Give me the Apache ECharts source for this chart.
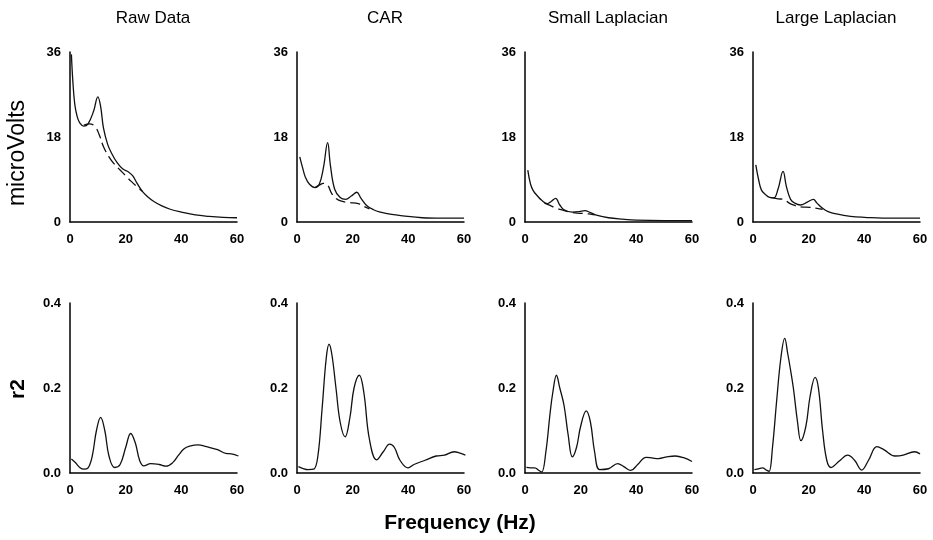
<!DOCTYPE html>
<html>
<head>
<meta charset="utf-8">
<script src="https://cdn.jsdelivr.net/npm/echarts@6/dist/echarts.min.js"></script>
<style>
  html, body { margin: 0; padding: 0; background: #fff; }
  #chart { width: 933px; height: 540px; }
</style>
</head>
<body>
<div id="chart"></div>
<script>
const panelTitles = ['Raw Data', 'CAR', 'Small Laplacian', 'Large Laplacian'];
const xTicks = [0, 20, 40, 60];
const voltTicks = [0, 18, 36];
const r2Ticks = [0.0, 0.2, 0.4];

// top row: amplitude spectra (solid = one condition, dashed = the other)
const rawSolidHz = [0.5, 1, 1.7, 2.5, 3.5, 5, 6.5, 8.5, 10, 11, 12, 13.5, 15, 17, 19, 21, 22.5, 24, 26, 28, 30, 33, 36, 40, 45, 50, 55, 60];
const rawSolid = [35.5, 30, 25, 22.5, 21, 20.3, 20.8, 23.5, 26.5, 24.5, 20, 16.5, 14.5, 12.5, 11.2, 10.6, 9.8, 8.3, 6.5, 5.3, 4.4, 3.4, 2.7, 2.1, 1.5, 1.2, 1.0, 0.9];
const rawDashHz = [5, 7, 9, 10.5, 12, 14, 16, 18, 20, 22, 24, 26];
const rawDash = [20.5, 20.8, 20.2, 18.5, 16, 13.8, 12.2, 11, 9.8, 8.6, 7.5, 6.5];

const carSolidHz = [1, 2, 3, 4.5, 6.5, 8, 9.5, 11, 12, 13.5, 15.5, 17.5, 19.5, 21.5, 23, 25, 27.5, 30, 34, 38, 45, 52, 60];
const carSolid = [13.8, 11.5, 9.5, 8, 7.3, 8, 11.5, 16.8, 12, 7, 5.2, 4.8, 5.5, 6.3, 5, 3.5, 2.6, 2.1, 1.6, 1.3, 0.9, 0.8, 0.8];
const carDashHz = [6.5, 8, 9.5, 11, 12.5, 14, 16, 19, 22, 24, 26];
const carDash = [7.3, 7.8, 8.2, 7.8, 6.0, 5.0, 4.4, 4.1, 3.9, 3.3, 2.8];

const smallSolidHz = [1, 2, 3, 4.5, 6, 8, 9.5, 11, 12.5, 14, 17, 19.5, 21.5, 23.5, 26, 30, 35, 40, 50, 60];
const smallSolid = [11, 8, 6.6, 5.5, 4.6, 3.9, 4.4, 5.0, 3.6, 2.6, 2.1, 2.2, 2.4, 2.0, 1.4, 0.9, 0.6, 0.4, 0.3, 0.3];
const smallDashHz = [7, 9, 11, 13, 16, 19, 21, 23, 25];
const smallDash = [4.0, 3.5, 3.0, 2.6, 2.1, 1.9, 1.8, 1.7, 1.5];

const largeSolidHz = [1, 2, 3, 4.5, 6, 7.5, 9, 10.8, 12, 13.5, 15, 17, 19.5, 21.7, 23, 25, 27, 30, 35, 40, 50, 60];
const largeSolid = [12.1, 9, 6.8, 5.8, 5.2, 5.1, 7, 10.7, 7.5, 4.8, 4.0, 3.6, 4.2, 4.8, 4.0, 2.9, 2.2, 1.7, 1.2, 1.0, 0.8, 0.8];
const largeDashHz = [7, 9, 11, 13, 15, 17, 20.5, 23, 25];
const largeDash = [5.1, 4.9, 4.8, 4.0, 3.5, 3.2, 3.1, 2.9, 2.7];

// bottom row: r2
const rawR2Hz = [0.5, 2, 3.5, 5, 6.5, 8, 9.5, 11, 12.5, 14, 16, 18, 20, 21.8, 23.5, 25, 26.5, 29, 32, 34.5, 37, 39, 41, 43, 46, 49, 53, 56, 58, 60.5];
const rawR2 = [0.033, 0.024, 0.013, 0.009, 0.012, 0.04, 0.1, 0.131, 0.1, 0.04, 0.013, 0.02, 0.06, 0.093, 0.07, 0.03, 0.017, 0.022, 0.02, 0.016, 0.025, 0.042, 0.057, 0.063, 0.066, 0.062, 0.055, 0.046, 0.045, 0.04];

const carR2Hz = [0.5, 2, 4, 6, 7.5, 9, 10.5, 11.5, 12.5, 14, 15.5, 17.3, 19, 20.5, 22.4, 24, 26, 28.6, 31, 33.3, 35, 37, 39.9, 42, 46, 50, 53, 56.5, 58, 60.5];
const carR2 = [0.015, 0.011, 0.008, 0.009, 0.04, 0.15, 0.27, 0.303, 0.28, 0.2, 0.12, 0.085, 0.13, 0.2, 0.23, 0.19, 0.08, 0.031, 0.05, 0.068, 0.06, 0.03, 0.012, 0.02, 0.03, 0.04, 0.042, 0.05, 0.048, 0.042];

const smallR2Hz = [0.5, 2, 3.5, 5, 6, 7.5, 9, 10, 11.3, 12.5, 14, 15.5, 17, 18.5, 20, 22, 23.5, 25, 26.8, 30, 33.3, 35.5, 38, 40.5, 43.5, 46, 48, 51, 54, 57, 60];
const smallR2 = [0.013, 0.012, 0.012, 0.006, 0.002, 0.05, 0.14, 0.19, 0.23, 0.2, 0.16, 0.09, 0.038, 0.06, 0.11, 0.146, 0.12, 0.05, 0.008, 0.01, 0.022, 0.015, 0.006, 0.02, 0.037, 0.035, 0.034, 0.038, 0.04, 0.036, 0.027];

const largeR2Hz = [0.5, 2, 3.4, 5, 5.8, 7, 8.5, 10, 11.4, 12.5, 13.3, 14.5, 16, 17.2, 19, 20.5, 22.3, 23.5, 25, 26.5, 28, 31, 34, 36.5, 39, 41.5, 44.5, 47, 51, 54, 58, 60];
const largeR2 = [0.008, 0.01, 0.012, 0.006, 0.004, 0.06, 0.17, 0.27, 0.317, 0.28, 0.25, 0.2, 0.12, 0.076, 0.11, 0.18, 0.225, 0.2, 0.1, 0.03, 0.013, 0.028, 0.042, 0.03, 0.007, 0.03, 0.062, 0.055, 0.04, 0.042, 0.05, 0.045];

const topSolid = [[rawSolidHz, rawSolid], [carSolidHz, carSolid], [smallSolidHz, smallSolid], [largeSolidHz, largeSolid]];
const topDash = [[rawDashHz, rawDash], [carDashHz, carDash], [smallDashHz, smallDash], [largeDashHz, largeDash]];
const bottomR2 = [[rawR2Hz, rawR2], [carR2Hz, carR2], [smallR2Hz, smallR2], [largeR2Hz, largeR2]];

const gridLefts = [70, 297, 525, 753];
const gridWidth = 167;
const FONT = '"Liberation Sans", Arial, sans-serif';

const chart = echarts.init(document.getElementById('chart'));

const zip = (xs, ys) => xs.map((x, i) => [x, ys[i]]);

const grids = [];
const xAxes = [];
const yAxes = [];
const series = [];

function axisLine() {
  return { show: true, lineStyle: { color: '#000', width: 1.5 } };
}

function addPanel(row, col) {
  const idx = grids.length;
  grids.push({
    left: gridLefts[col],
    top: row === 0 ? 52 : 303,
    width: gridWidth,
    height: 170,
  });
  xAxes.push({
    gridIndex: idx,
    type: 'value',
    min: 0,
    max: 60,
    interval: 20,
    axisLine: axisLine(),
    axisTick: { show: false },
    splitLine: { show: false },
    axisLabel: {
      color: '#000',
      fontFamily: FONT,
      fontSize: 13,
      fontWeight: 'bold',
      margin: 11,
      customValues: xTicks,
    },
  });
  const ticks = row === 0 ? voltTicks : r2Ticks;
  yAxes.push({
    gridIndex: idx,
    type: 'value',
    min: 0,
    max: row === 0 ? 36 : 0.4,
    interval: row === 0 ? 18 : 0.2,
    axisLine: axisLine(),
    axisTick: { show: false },
    splitLine: { show: false },
    axisLabel: {
      color: '#000',
      fontFamily: FONT,
      fontSize: 13,
      fontWeight: 'bold',
      margin: 9,
      customValues: ticks,
      formatter: (v) => (row === 0 ? String(v) : v.toFixed(1)),
    },
  });

  const lineBase = {
    type: 'line',
    xAxisIndex: idx,
    yAxisIndex: idx,
    showSymbol: false,
    smooth: 0.4,
    silent: true,
    z: 3,
  };

  if (row === 0) {
    const [sx, sy] = topSolid[col];
    const [dx, dy] = topDash[col];
    series.push({
      ...lineBase,
      data: zip(sx, sy),
      lineStyle: { color: '#111', width: 1.3 },
    });
    series.push({
      ...lineBase,
      data: zip(dx, dy),
      lineStyle: { color: '#111', width: 1.3, type: [10, 5] },
    });
  } else {
    const [rx, ry] = bottomR2[col];
    series.push({
      ...lineBase,
      data: zip(rx, ry),
      lineStyle: { color: '#111', width: 1.3 },
    });
  }
}

for (let row = 0; row < 2; row++) {
  for (let col = 0; col < 4; col++) {
    addPanel(row, col);
  }
}

const titleCenters = [153, 385, 608, 836];
const graphic = panelTitles.map((t, i) => ({
  type: 'text',
  style: {
    text: t,
    x: titleCenters[i],
    y: 18,
    textAlign: 'center',
    textVerticalAlign: 'middle',
    font: `17px ${FONT}`,
    fill: '#000',
  },
}));

graphic.push({
  type: 'text',
  x: 18,
  y: 153,
  rotation: Math.PI / 2,
  style: {
    text: 'microVolts',
    textAlign: 'center',
    textVerticalAlign: 'middle',
    font: `23px ${FONT}`,
    fill: '#000',
  },
});
graphic.push({
  type: 'text',
  x: 18,
  y: 389,
  rotation: Math.PI / 2,
  style: {
    text: 'r2',
    textAlign: 'center',
    textVerticalAlign: 'middle',
    font: `bold 21px ${FONT}`,
    fill: '#000',
  },
});
graphic.push({
  type: 'text',
  style: {
    text: 'Frequency (Hz)',
    x: 460,
    y: 523,
    textAlign: 'center',
    textVerticalAlign: 'middle',
    font: `bold 21px ${FONT}`,
    fill: '#000',
  },
});

chart.setOption({
  animation: false,
  backgroundColor: '#fff',
  grid: grids,
  xAxis: xAxes,
  yAxis: yAxes,
  series,
  graphic,
});
</script>
</body>
</html>
